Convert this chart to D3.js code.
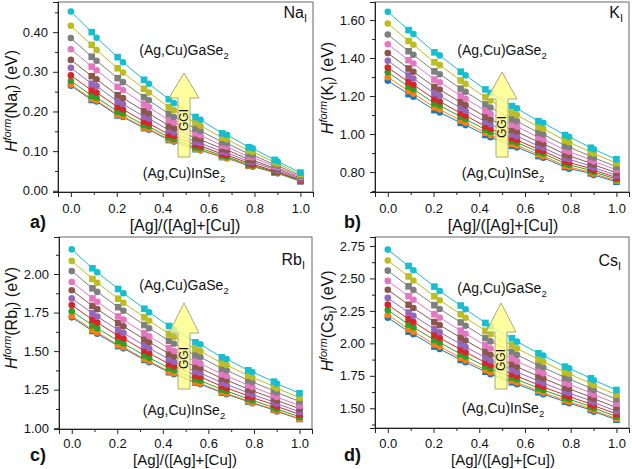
<!DOCTYPE html>
<html><head><meta charset="utf-8">
<script src="https://cdn.jsdelivr.net/npm/d3@7"></script>
<style>body{margin:0;background:#fff}text{font-family:"Liberation Sans",Arial,sans-serif;fill:#111}</style>
</head><body><svg id="chart" width="632" height="469"></svg>
<script>
// x positions ([Ag]/([Ag]+[Cu])) of the plotted compositions; even index = circle, odd = square
const agFraction = [0,0.091,0.112,0.204,0.227,0.319,0.34,0.427,0.449,0.543,0.565,0.659,0.68,0.775,0.793,0.888,0.901,1.0];
const seriesColors = ["#1f77b4","#ff7f0e","#2ca02c","#d62728","#9467bd","#8c564b","#e377c2","#7f7f7f","#bcbd22","#17becf"];
const xTicks = [0,0.2,0.4,0.6,0.8,1.0];
const xMinor = [0.1,0.3,0.5,0.7,0.9];

// series order: low GGI (blue) -> high GGI (cyan)
const hNa = [
 [0.265,0.229,0.225,0.190,0.186,0.158,0.154,0.128,0.124,0.105,0.102,0.085,0.082,0.063,0.061,0.046,0.044,0.024],
 [0.268,0.232,0.228,0.192,0.188,0.160,0.156,0.130,0.126,0.106,0.103,0.086,0.083,0.064,0.062,0.047,0.045,0.025],
 [0.277,0.240,0.235,0.200,0.195,0.166,0.162,0.135,0.130,0.110,0.107,0.089,0.086,0.066,0.064,0.048,0.046,0.025],
 [0.291,0.253,0.248,0.211,0.205,0.175,0.170,0.142,0.138,0.116,0.113,0.093,0.090,0.070,0.067,0.050,0.048,0.027],
 [0.310,0.270,0.264,0.225,0.219,0.187,0.182,0.153,0.147,0.124,0.120,0.099,0.096,0.074,0.072,0.054,0.051,0.029],
 [0.330,0.289,0.281,0.241,0.234,0.201,0.195,0.164,0.158,0.133,0.129,0.106,0.103,0.079,0.077,0.057,0.055,0.032],
 [0.357,0.313,0.304,0.262,0.254,0.218,0.211,0.178,0.172,0.145,0.140,0.114,0.111,0.086,0.084,0.062,0.059,0.035],
 [0.385,0.338,0.328,0.284,0.274,0.236,0.228,0.194,0.186,0.157,0.151,0.123,0.120,0.093,0.090,0.066,0.063,0.038],
 [0.416,0.368,0.355,0.309,0.298,0.257,0.248,0.211,0.203,0.171,0.164,0.134,0.130,0.101,0.098,0.072,0.068,0.042],
 [0.452,0.400,0.386,0.337,0.324,0.280,0.270,0.231,0.221,0.186,0.179,0.145,0.141,0.110,0.107,0.078,0.074,0.046]
];
const hK = [
 [1.281,1.210,1.196,1.126,1.114,1.059,1.047,0.995,0.983,0.938,0.930,0.884,0.875,0.826,0.818,0.793,0.784,0.749],
 [1.299,1.227,1.213,1.141,1.129,1.072,1.060,1.007,0.995,0.948,0.940,0.893,0.884,0.834,0.826,0.800,0.791,0.755],
 [1.325,1.250,1.236,1.162,1.150,1.091,1.078,1.024,1.011,0.963,0.955,0.906,0.897,0.846,0.838,0.809,0.800,0.763],
 [1.350,1.274,1.259,1.184,1.171,1.110,1.097,1.041,1.027,0.978,0.969,0.919,0.910,0.858,0.850,0.819,0.810,0.771],
 [1.386,1.308,1.292,1.214,1.201,1.137,1.123,1.065,1.051,0.999,0.989,0.937,0.928,0.875,0.867,0.832,0.823,0.783],
 [1.426,1.345,1.328,1.248,1.234,1.167,1.152,1.091,1.077,1.022,1.012,0.958,0.949,0.894,0.885,0.847,0.838,0.796],
 [1.473,1.389,1.371,1.287,1.273,1.202,1.186,1.122,1.107,1.049,1.039,0.982,0.973,0.916,0.907,0.865,0.856,0.812],
 [1.524,1.436,1.417,1.330,1.315,1.239,1.223,1.156,1.140,1.078,1.067,1.007,0.998,0.939,0.931,0.883,0.875,0.828],
 [1.582,1.490,1.470,1.378,1.363,1.282,1.264,1.194,1.177,1.111,1.100,1.037,1.028,0.966,0.957,0.905,0.897,0.847],
 [1.644,1.547,1.526,1.430,1.414,1.328,1.309,1.235,1.217,1.147,1.135,1.068,1.059,0.995,0.986,0.928,0.920,0.867]
];
const hRb = [
 [1.719,1.631,1.613,1.533,1.518,1.443,1.428,1.363,1.350,1.296,1.285,1.231,1.220,1.173,1.162,1.119,1.108,1.060],
 [1.728,1.639,1.621,1.540,1.525,1.450,1.434,1.369,1.356,1.301,1.290,1.236,1.225,1.177,1.166,1.123,1.112,1.063],
 [1.759,1.668,1.649,1.566,1.550,1.473,1.457,1.390,1.376,1.319,1.308,1.252,1.241,1.191,1.180,1.135,1.124,1.075],
 [1.798,1.704,1.685,1.600,1.582,1.503,1.486,1.417,1.402,1.343,1.332,1.272,1.261,1.210,1.199,1.152,1.141,1.090],
 [1.842,1.745,1.724,1.637,1.618,1.536,1.519,1.447,1.431,1.369,1.358,1.295,1.284,1.230,1.219,1.170,1.159,1.107],
 [1.895,1.793,1.772,1.681,1.661,1.576,1.558,1.483,1.466,1.400,1.389,1.323,1.312,1.254,1.243,1.192,1.180,1.127],
 [1.948,1.842,1.820,1.725,1.704,1.616,1.596,1.519,1.501,1.432,1.420,1.350,1.339,1.279,1.268,1.214,1.202,1.147],
 [2.019,1.907,1.884,1.785,1.761,1.669,1.648,1.567,1.548,1.473,1.461,1.387,1.376,1.311,1.300,1.243,1.231,1.174],
 [2.085,1.968,1.943,1.840,1.814,1.719,1.697,1.612,1.592,1.513,1.500,1.421,1.410,1.341,1.330,1.271,1.258,1.199],
 [2.160,2.037,2.011,1.903,1.875,1.775,1.752,1.663,1.641,1.557,1.544,1.460,1.449,1.376,1.365,1.302,1.289,1.227]
];
const hCs = [
 [2.198,2.090,2.070,1.975,1.957,1.872,1.854,1.782,1.762,1.700,1.685,1.623,1.608,1.551,1.539,1.487,1.474,1.412],
 [2.219,2.110,2.090,1.993,1.975,1.889,1.870,1.797,1.777,1.714,1.698,1.635,1.620,1.562,1.550,1.497,1.484,1.421],
 [2.256,2.146,2.124,2.026,2.006,1.918,1.899,1.823,1.802,1.737,1.721,1.656,1.641,1.581,1.569,1.514,1.501,1.437],
 [2.298,2.186,2.164,2.063,2.042,1.952,1.932,1.853,1.832,1.764,1.747,1.680,1.665,1.602,1.590,1.533,1.520,1.456],
 [2.350,2.237,2.213,2.109,2.086,1.994,1.972,1.891,1.868,1.798,1.780,1.710,1.694,1.629,1.617,1.558,1.544,1.478],
 [2.413,2.297,2.272,2.164,2.140,2.044,2.021,1.936,1.912,1.839,1.819,1.746,1.730,1.662,1.649,1.587,1.573,1.506],
 [2.481,2.363,2.336,2.224,2.198,2.098,2.074,1.985,1.960,1.883,1.862,1.786,1.769,1.697,1.684,1.619,1.605,1.536],
 [2.560,2.439,2.410,2.294,2.265,2.161,2.136,2.041,2.015,1.934,1.911,1.831,1.814,1.737,1.725,1.655,1.641,1.570],
 [2.638,2.515,2.484,2.363,2.332,2.224,2.197,2.097,2.070,1.985,1.961,1.876,1.858,1.778,1.765,1.692,1.677,1.604],
 [2.722,2.596,2.563,2.437,2.403,2.291,2.262,2.157,2.129,2.039,2.013,1.924,1.906,1.821,1.808,1.731,1.716,1.641]
];
const naTicks = [0.00,0.10,0.20,0.30,0.40], naMinor = [0.05,0.15,0.25,0.35,0.45];
const kTicks = [0.80,1.00,1.20,1.40,1.60], kMinor = [0.70,0.90,1.10,1.30,1.50];
const rbTicks = [1.00,1.25,1.50,1.75,2.00], rbMinor = [1.125,1.375,1.625,1.875,2.125];
const csTicks = [1.50,1.75,2.00,2.25,2.50,2.75], csMinor = [1.375,1.625,1.875,2.125,2.375,2.625];

const panels = [
 {vals:hNa, yDom:[-0.003,0.476], yT:naTicks, yM:naMinor, x0:58, x1:313, y0:2, y1:192, el:"Na", letter:"a)", pad:7, xfs:16,
  elP:[307,18], ga:[184,55], ins:[184,178], arr:[184,73,98,157], ggi:[184,120], yt:[17,101], xt:[185,231], lp:[30,228]},
 {vals:hK, yDom:[0.695,1.695], yT:kTicks, yM:kMinor, x0:375, x1:629, y0:2, y1:192, el:"K", letter:"b)", pad:7, xfs:16,
  elP:[623,18], ga:[502,55], ins:[503,178], arr:[502,72,99,157], ggi:[502,127], yt:[333,88], xt:[503,231], lp:[344,228]},
 {vals:hRb, yDom:[0.995,2.24], yT:rbTicks, yM:rbMinor, x0:59, x1:312, y0:237, y1:429, el:"Rb", letter:"c)", pad:5, xfs:15,
  elP:[305,265], ga:[184,290], ins:[184,415], arr:[184,303,333,389], ggi:[184,358], yt:[17,318], xt:[185,465], lp:[30,461]},
 {vals:hCs, yDom:[1.348,2.819], yT:csTicks, yM:csMinor, x0:375, x1:629, y0:237, y1:428, el:"Cs", letter:"d)", pad:6, xfs:15,
  elP:[621,266], ga:[502,293], ins:[503,413], arr:[501,303,332,389], ggi:[501,360], yt:[333,321], xt:[503,465], lp:[344,461]}
];

const svg = d3.select("#chart");

function rich(t, parts, size){
  let cur = 0;
  parts.forEach(p=>{
    const target = p.s==="sup" ? -0.38*size : p.s==="sub" ? 0.28*size : 0;
    const ts = t.append("tspan").text(p.t).attr("dy", target-cur);
    if (p.s) ts.attr("font-size", size*0.68);
    if (p.i) ts.attr("font-style","italic");
    cur = target;
  });
}

panels.forEach(P=>{
  const x = d3.scaleLinear().domain([-0.056,1.055]).range([P.x0,P.x1]);
  const y = d3.scaleLinear().domain(P.yDom).range([P.y1,P.y0]);
  const g = svg.append("g");

  g.append("rect").attr("x",P.x0).attr("y",P.y0).attr("width",P.x1-P.x0).attr("height",P.y1-P.y0)
   .attr("fill","none").attr("stroke","#666").attr("stroke-width",1);

  const line = d3.line().x((d,i)=>x(agFraction[i])).y(d=>y(d));
  P.vals.forEach((s,k)=>{
    const c = seriesColors[k];
    g.append("path").attr("d",line(s)).attr("fill","none").attr("stroke",c).attr("stroke-width",1);
    s.forEach((v,i)=>{
      if (i%2===0) g.append("circle").attr("cx",x(agFraction[i])).attr("cy",y(v)).attr("r",3.3).attr("fill",c);
      else g.append("rect").attr("x",x(agFraction[i])-3.3).attr("y",y(v)-3.3).attr("width",6.6).attr("height",6.6).attr("fill",c);
    });
  });

  const ax = g.append("g").attr("transform",`translate(0,${P.y1})`)
    .call(d3.axisBottom(x).tickValues(xTicks).tickSize(5).tickPadding(P.pad).tickFormat(d3.format(".1f")));
  const axm = g.append("g").attr("transform",`translate(0,${P.y1})`)
    .call(d3.axisBottom(x).tickValues(xMinor).tickSize(3).tickFormat(""));
  const ay = g.append("g").attr("transform",`translate(${P.x0},0)`)
    .call(d3.axisLeft(y).tickValues(P.yT).tickSize(5).tickPadding(5).tickFormat(d3.format(".2f")));
  const aym = g.append("g").attr("transform",`translate(${P.x0},0)`)
    .call(d3.axisLeft(y).tickValues(P.yM.filter(v=>v>=P.yDom[0]&&v<=P.yDom[1])).tickSize(3).tickFormat(""));
  [ax,axm,ay,aym].forEach(a=>{a.select(".domain").attr("stroke","#222"); a.selectAll(".tick line").attr("stroke","#222");
    a.selectAll("text").attr("font-size",13).attr("font-family","Liberation Sans, Arial, sans-serif").attr("fill","#111");});

  const [cx,tip,base,bot] = P.arr;
  g.append("path").attr("d",`M${cx-6},${bot}L${cx-6},${base}L${cx-15},${base}L${cx},${tip}L${cx+15},${base}L${cx+6},${base}L${cx+6},${bot}Z`)
    .attr("fill","#ffff88").attr("fill-opacity",0.8).attr("stroke","#a8a878").attr("stroke-width",1);
  g.append("text").attr("transform",`translate(${P.ggi[0]+4},${P.ggi[1]}) rotate(-90)`).attr("text-anchor","middle")
    .attr("font-size",12).text("GGI");

  const te = g.append("text").attr("x",P.elP[0]).attr("y",P.elP[1]).attr("text-anchor","end").attr("font-size",16);
  rich(te,[{t:P.el},{t:"I",s:"sub"}],16);
  const tg = g.append("text").attr("x",P.ga[0]).attr("y",P.ga[1]).attr("text-anchor","middle").attr("font-size",14);
  rich(tg,[{t:"(Ag,Cu)GaSe"},{t:"2",s:"sub"}],14);
  const ti = g.append("text").attr("x",P.ins[0]).attr("y",P.ins[1]).attr("text-anchor","middle").attr("font-size",14);
  rich(ti,[{t:"(Ag,Cu)InSe"},{t:"2",s:"sub"}],14);
  const ty = g.append("text").attr("transform",`translate(${P.yt[0]},${P.yt[1]}) rotate(-90)`).attr("text-anchor","middle").attr("font-size",16);
  rich(ty,[{t:"H",i:true},{t:"form",s:"sup",i:true},{t:"("+P.el},{t:"I",s:"sub"},{t:") (eV)"}],16);
  g.append("text").attr("x",P.xt[0]).attr("y",P.xt[1]).attr("text-anchor","middle").attr("font-size",P.xfs).text("[Ag]/([Ag]+[Cu])");
  g.append("text").attr("x",P.lp[0]).attr("y",P.lp[1]).attr("font-size",18).attr("font-weight","bold").text(P.letter);
});
</script></body></html>
